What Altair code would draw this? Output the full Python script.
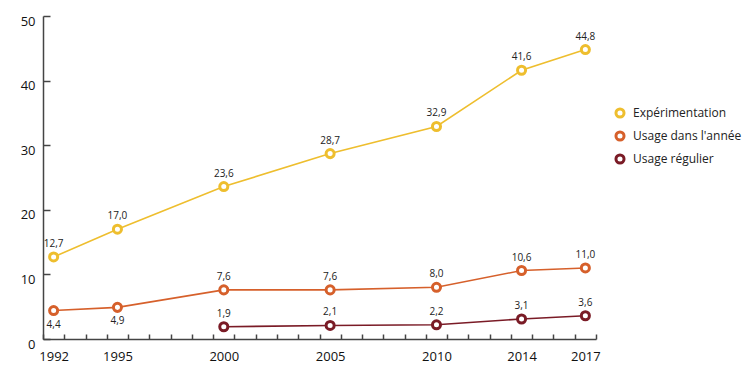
import altair as alt
import pandas as pd

years = [1992, 1995, 2000, 2005, 2010, 2014, 2017]
series = ["Expérimentation", "Usage dans l'année", "Usage régulier"]
experimentation = [12.7, 17.0, 23.6, 28.7, 32.9, 41.6, 44.8]
usage_annee = [4.4, 4.9, 7.6, 7.6, 8.0, 10.6, 11.0]
usage_regulier = [None, None, 1.9, 2.1, 2.2, 3.1, 3.6]
colors = ["#EEBE2E", "#D6602B", "#7A1B26"]

rows = []
for name, vals in zip(series, [experimentation, usage_annee, usage_regulier]):
    for y, v in zip(years, vals):
        if v is not None:
            rows.append({"year": y, "value": v, "serie": name})
df = pd.DataFrame(rows)

minor_x = [1991.5 + i for i in range(27)]
y_ticks = [0, 10, 20, 30, 40, 50]

FONT = "Open Sans"
W, H = 553, 323

xscale = alt.Scale(domain=[1991.5, 2017.5], nice=False, zero=False)
yscale = alt.Scale(domain=[0, 50], nice=False)

x_enc = alt.X("year:Q", scale=xscale, title=None,
              axis=alt.Axis(values=years, format="d", ticks=False, grid=False,
                            labelPadding=11, labelFontSize=13, labelColor="#111",
                            labelFont=FONT, domainColor="#444", domainWidth=1.5))
y_enc = alt.Y("value:Q", scale=yscale, title=None,
              axis=alt.Axis(values=y_ticks, ticks=False, grid=False,
                            labelPadding=8, labelOffset=5, labelFontSize=13,
                            labelColor="#111", labelFont=FONT,
                            domainColor="#444", domainWidth=1.5))
color_scale = alt.Scale(domain=series, range=colors)
legend = alt.Legend(orient="none", legendX=571, legendY=91,
                    symbolType="circle", symbolFillColor="white",
                    symbolStrokeWidth=3, symbolSize=65,
                    labelFont=FONT, labelFontSize=12,
                    labelColor="#222", labelOffset=7, rowPadding=1,
                    labelLimit=200)
color_enc = alt.Color("serie:N", scale=color_scale, title=None, legend=legend)

base = alt.Chart(df)
line = base.mark_line(strokeWidth=1.6).encode(x=x_enc, y=y_enc, color=color_enc)
points = base.mark_point(filled=False, fill="white", fillOpacity=1, size=65,
                         strokeWidth=3, opacity=1).encode(
    x=x_enc, y=y_enc, color=color_enc)
below_expr = "datum.serie == \"Usage dans l'année\" && datum.year < 2000"
labels_above = base.transform_filter("!(" + below_expr + ")").transform_calculate(
    lab="replace(format(datum.value, '.1f'), '.', ',')"
).mark_text(dy=-13, fontSize=10, font=FONT, color="#222").encode(
    x=x_enc, y=y_enc, text="lab:N")
labels_below = base.transform_filter(below_expr).transform_calculate(
    lab="replace(format(datum.value, '.1f'), '.', ',')"
).mark_text(dy=14, fontSize=10, font=FONT, color="#222").encode(
    x=x_enc, y=y_enc, text="lab:N")

main = alt.layer(line, points, labels_above, labels_below)

ticks = base.mark_point(opacity=0).encode(
    x=alt.X("year:Q", scale=xscale, title=None,
            axis=alt.Axis(orient="top", offset=-H, values=minor_x, labels=False,
                          domain=False, grid=False, tickSize=5, tickColor="#444",
                          tickWidth=1.5)),
    y=alt.Y("value:Q", scale=yscale, title=None,
            axis=alt.Axis(orient="right", offset=-W, values=y_ticks, labels=False,
                          domain=False, grid=False, tickSize=7, tickColor="#444",
                          tickWidth=1.5)))

chart = alt.layer(main, ticks).resolve_axis(x="independent", y="independent").properties(
    width=W, height=H,
    background="white",
    autosize=alt.AutoSizeParams(type="none"),
    padding={"left": 35, "top": 8, "right": 151, "bottom": 28},
).configure_view(strokeWidth=0, stroke=None)

chart.save("out.html", embed_options={"renderer": "svg", "actions": False})
